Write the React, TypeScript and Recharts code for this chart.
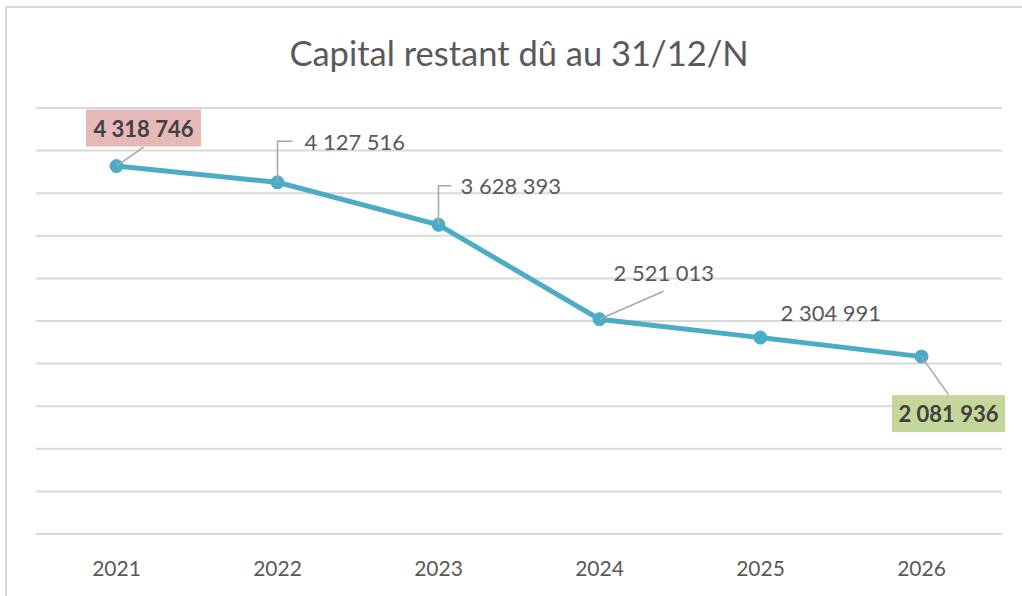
import React from 'react';
import { LineChart, Line, XAxis, YAxis, CartesianGrid, LabelList } from 'recharts';

const years = ['2021', '2022', '2023', '2024', '2025', '2026'];
const capital = [4318746, 4127516, 3628393, 2521013, 2304991, 2081936];
const yTicks = [0, 500000, 1000000, 1500000, 2000000, 2500000, 3000000, 3500000, 4000000, 4500000, 5000000];

const chartData = years.map((year, i) => ({ year, capital: capital[i] }));

const FONT = 'Lato, "Open Sans", sans-serif';
const TEXT = '#595959';
const LEADER = '#a6a6a6';

// label placement relative to each point (Excel-style callouts)
const labelLayout = [
  { kind: 'box', dx: 27, dy: -38, w: 115, h: 37, fill: '#e6b9b8', leader: [[27, -19]] },
  { kind: 'text', dx: 27, dy: -41, leader: [[0, -41], [15, -41]] },
  { kind: 'text', dx: 22, dy: -39, leader: [[0, -39], [13, -39]] },
  { kind: 'text', dx: 14, dy: -47, leader: [[64, -28]] },
  { kind: 'text', dx: 20, dy: -25, leader: [] },
  { kind: 'box', dx: 27, dy: 57, w: 113, h: 37, fill: '#c4d79b', leader: [[27, 38]] },
];

const fmt = (v: number) => String(v).replace(/\B(?=(\d{3})+(?!\d))/g, ' ');

const PointLabel = (props: any) => {
  const { x, y, value, index } = props;
  const l = labelLayout[index];
  if (!l || x == null) return null;
  const pts = [[0, 0], ...l.leader].map(([a, b]) => `${x + a},${y + b}`).join(' ');
  return (
    <g>
      {l.leader.length > 0 && (
        <polyline points={pts} fill="none" stroke={LEADER} strokeWidth={1.5} />
      )}
      {l.kind === 'box' ? (
        <g>
          <rect x={x + l.dx - l.w! / 2} y={y + l.dy - l.h! / 2} width={l.w} height={l.h} fill={l.fill} />
          <text x={x + l.dx} y={y + l.dy} textAnchor="middle" dominantBaseline="central"
            fontFamily={FONT} fontSize={22} fontWeight={700} fill="#404040">
            {fmt(value)}
          </text>
        </g>
      ) : (
        <text x={x + l.dx} y={y + l.dy} textAnchor="start" dominantBaseline="central"
          fontFamily={FONT} fontSize={22} fill={TEXT}>
          {fmt(value)}
        </text>
      )}
    </g>
  );
};

const YearTick = ({ x, y, payload }: any) => (
  <text x={x} y={y + 25} textAnchor="middle" dominantBaseline="central"
    fontFamily={FONT} fontSize={21} fill={TEXT}>
    {payload.value}
  </text>
);

export default function App() {
  return (
    <div style={{ position: 'absolute', left: 0, top: 0, width: 1022, height: 596, overflow: 'hidden', background: '#fff' }}>
      <div style={{ position: 'absolute', left: 5, top: 6, width: 1100, height: 700, border: '2px solid #d9d9d9' }} />
      <div style={{ position: 'absolute', left: 36, width: 966, top: 36, lineHeight: '34.5px', fontSize: 34.5,
        fontFamily: FONT, color: TEXT, textAlign: 'center', whiteSpace: 'nowrap' }}>
        Capital restant dû au 31/12/N
      </div>
      <div style={{ position: 'absolute', left: 0, top: 0 }}>
        <LineChart width={1022} height={596} data={chartData}
          margin={{ top: 108, right: 20, left: 36, bottom: 32 }}>
          <CartesianGrid vertical={false} stroke="#d9d9d9" strokeWidth={2} />
          <XAxis dataKey="year" height={30} padding={{ left: 80.5, right: 80.5 }}
            axisLine={{ stroke: '#d9d9d9', strokeWidth: 2 }} tickLine={false} tick={<YearTick />}
            interval={0} />
          <YAxis hide domain={[0, 5000000]} ticks={yTicks} />
          <Line type="linear" dataKey="capital" stroke="#4bacc6" strokeWidth={5}
            dot={{ r: 6.5, fill: '#4bacc6', stroke: '#4bacc6', strokeWidth: 1 }}
            isAnimationActive={false}>
            <LabelList dataKey="capital" content={<PointLabel />} />
          </Line>
        </LineChart>
      </div>
    </div>
  );
}
